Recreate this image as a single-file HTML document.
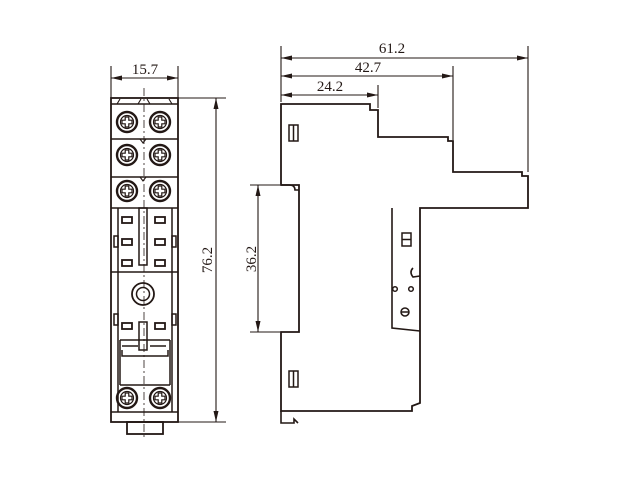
<!DOCTYPE html>
<html><head><style>body{margin:0;background:#fff}svg{display:block}</style></head>
<body>
<svg width="640" height="480" viewBox="0 0 640 480" xmlns="http://www.w3.org/2000/svg" font-family="Liberation Serif, serif" font-size="15" fill="none" stroke="#231815" stroke-width="1.5">
<defs>
<marker id="a" markerWidth="11" markerHeight="6" refX="11" refY="3" orient="auto-start-reverse" markerUnits="userSpaceOnUse"><path d="M0,0.5 L11,3 L0,5.5Z" fill="#231815" stroke="none"/></marker>
<g id="scr"><circle r="10" stroke-width="2.4"/><circle r="6.5" stroke-width="1.2"/><path d="M-1.8,-5 h3.6 v3.2 h3.2 v3.6 h-3.2 v3.2 h-3.6 v-3.2 h-3.2 v-3.6 h3.2z" stroke-width="1.2"/></g>
<rect id="sr" width="10" height="6" stroke-width="1.8"/>
</defs>
<!-- front view -->
<g stroke-width="1.1">
<line x1="111" y1="66" x2="111" y2="98"/><line x1="178" y1="66" x2="178" y2="98"/>
<line x1="111" y1="78" x2="178" y2="78" marker-start="url(#a)" marker-end="url(#a)"/>
<line x1="178" y1="98" x2="226" y2="98"/><line x1="178" y1="422" x2="226" y2="422"/>
<line x1="216" y1="98" x2="216" y2="422" marker-start="url(#a)" marker-end="url(#a)"/>
</g>
<text x="145" y="74" text-anchor="middle" fill="#231815" stroke="none">15.7</text>
<text transform="translate(212,260) rotate(-90)" text-anchor="middle" fill="#231815" stroke="none">76.2</text>
<rect x="111" y="98" width="67" height="324" stroke-width="1.8"/>
<line x1="111" y1="104" x2="178" y2="104"/>
<path d="M117,104 l3,-5 M138,104 l3,-5 M150,104 l-3,-5 M172,104 l-3,-5 M140,139 l3,4 l3,-4 M140,177 l3,4 l3,-4" stroke-width="1.1"/>
<line x1="111" y1="139" x2="178" y2="139"/>
<line x1="111" y1="177" x2="178" y2="177"/>
<line x1="111" y1="208" x2="178" y2="208"/>
<use href="#scr" x="127" y="122"/><use href="#scr" x="160" y="122"/>
<use href="#scr" x="127" y="155"/><use href="#scr" x="160" y="155"/>
<use href="#scr" x="127" y="191"/><use href="#scr" x="160" y="191"/>
<line x1="118" y1="208" x2="118" y2="412"/><line x1="172" y1="208" x2="172" y2="412"/>
<rect x="139" y="208" width="8" height="57"/>
<use href="#sr" x="122" y="217"/><use href="#sr" x="155" y="217"/>
<use href="#sr" x="122" y="239"/><use href="#sr" x="155" y="239"/>
<use href="#sr" x="122" y="260"/><use href="#sr" x="155" y="260"/>
<rect x="114" y="236" width="4" height="11"/><rect x="172" y="236" width="4" height="11"/>
<rect x="114" y="314" width="4" height="11"/><rect x="172" y="314" width="4" height="11"/>
<line x1="111" y1="272" x2="178" y2="272"/>
<circle cx="143" cy="294" r="11" stroke-width="1.8"/><circle cx="143" cy="294" r="6.5"/>
<use href="#sr" x="122" y="323"/><use href="#sr" x="155" y="323"/>
<rect x="139" y="322" width="8" height="28"/>
<path d="M120,340 h50 M120,340 v45 M170,340 v45 M122,346 h16 M150,346 h16 M122,350 v6 h46 v-6 M120,385 h50" />
<use href="#scr" x="127" y="398"/><use href="#scr" x="160" y="398"/>
<line x1="111" y1="412" x2="178" y2="412"/>
<rect x="127" y="422" width="36" height="12" stroke-width="1.8"/>
<line x1="144" y1="88" x2="144" y2="440" stroke-dasharray="8,3,2,3" stroke-width="0.8"/>
<!-- side view -->
<g stroke-width="1.1">
<line x1="281" y1="46" x2="281" y2="102"/>
<line x1="528" y1="46" x2="528" y2="172"/>
<line x1="453" y1="66" x2="453" y2="140"/>
<line x1="378" y1="85" x2="378" y2="108"/>
<line x1="281" y1="58" x2="528" y2="58" marker-start="url(#a)" marker-end="url(#a)"/>
<line x1="281" y1="76" x2="453" y2="76" marker-start="url(#a)" marker-end="url(#a)"/>
<line x1="281" y1="95" x2="378" y2="95" marker-start="url(#a)" marker-end="url(#a)"/>
<line x1="250" y1="185" x2="280" y2="185"/><line x1="250" y1="332" x2="280" y2="332"/>
<line x1="258" y1="185" x2="258" y2="332" marker-start="url(#a)" marker-end="url(#a)"/>
</g>
<text x="392" y="53" text-anchor="middle" fill="#231815" stroke="none">61.2</text>
<text x="368" y="72" text-anchor="middle" fill="#231815" stroke="none">42.7</text>
<text x="330" y="91" text-anchor="middle" fill="#231815" stroke="none">24.2</text>
<text transform="translate(256,259) rotate(-90)" text-anchor="middle" fill="#231815" stroke="none">36.2</text>
<path d="M281,104 H370 V110 H378 V137 H448 V141 H453 V172 H522 V176 H528 V208 H420 V403 L412,406 V411 H281 V332 H299 V185 H281 Z" stroke-width="1.8"/>
<path d="M281,185 h8 q6,0 6,5 h4 M281,411 v12 h13 v-4 l4,4 M392,208 V328 L420,331 M413,268 q-4,4 0,9 l7,-1" stroke-width="1.6"/>
<rect x="289" y="125" width="9" height="16"/><line x1="293.5" y1="125" x2="293.5" y2="141"/>
<rect x="289" y="371" width="9" height="16"/><line x1="293.5" y1="371" x2="293.5" y2="387"/>
<rect x="402" y="233" width="9" height="13"/><line x1="402" y1="239.5" x2="411" y2="239.5"/>
<circle cx="395" cy="289" r="2.3"/><circle cx="411" cy="289" r="2.3"/>
<circle cx="405" cy="312" r="4"/><line x1="401" y1="312" x2="409" y2="312"/>
</svg>
</body></html>
